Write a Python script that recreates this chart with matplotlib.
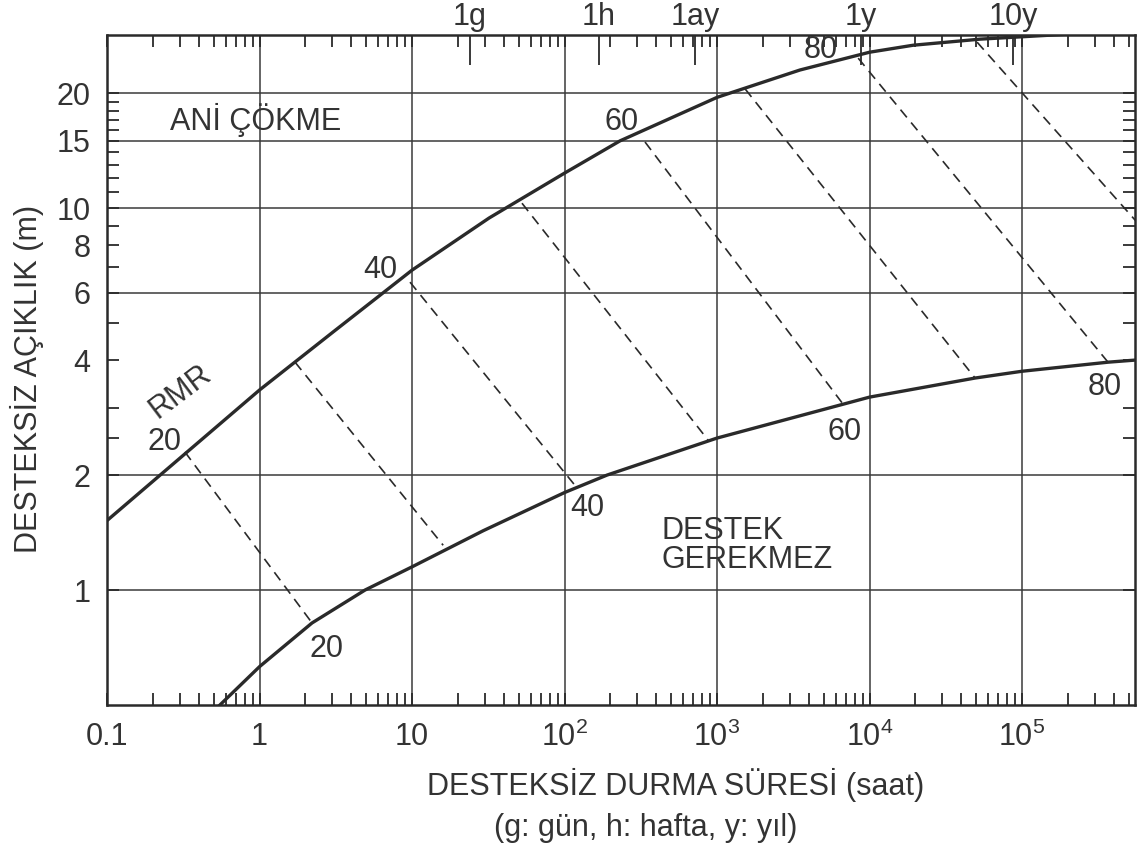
import matplotlib
matplotlib.use("Agg")
import matplotlib.pyplot as plt
from matplotlib.ticker import FixedLocator, FixedFormatter, NullFormatter

# ---------------- data ----------------
# upper boundary (immediate collapse), time in hours, span in m
upper_t = [0.1, 1, 3.08, 6.46, 10, 32, 100, 231, 1000, 3500, 10000, 19300, 53100, 100000, 186000]
upper_s = [1.52, 3.34, 4.76, 6.0, 6.88, 9.42, 12.35, 15.0, 19.5, 23.0, 25.6, 26.7, 27.7, 28.1, 28.5]

# lower boundary (no support required)
lower_t = [0.55, 1, 2.21, 4.92, 10, 29.3, 100, 190, 1000, 10000, 49200, 100000, 366000, 550000]
lower_s = [0.5, 0.63, 0.82, 1.0, 1.15, 1.43, 1.80, 2.0, 2.50, 3.20, 3.59, 3.74, 3.95, 4.0]

# RMR iso-lines (dashed): start at upper curve, end on lower curve
rmr_top_t = [0.324, 1.71, 9.7, 52.6, 337, 1530, 8420, 50700]
rmr_top_s = [2.30, 3.95, 6.4, 10.3, 14.9, 20.5, 24.7, 27.2]
rmr_bot_t = [2.21, 16.0, 117, 873, 6610, 49200, 366000, 3.6e6]
rmr_bot_s = [0.82, 1.31, 1.88, 2.47, 3.09, 3.59, 3.95, 4.0]

# RMR labels
up_lab = ["20", "40", "60", "80"]
up_lab_t = [0.240, 6.17, 238, 4810]
up_lab_s = [2.44, 6.88, 16.8, 25.9]
lo_lab = ["20", "40", "60", "80"]
lo_lab_t = [2.73, 141, 6900, 3.5e5]
lo_lab_s = [0.70, 1.64, 2.59, 3.40]

# axis ticks
x_major = [0.1, 1, 10, 100, 1000, 10000, 100000]
x_major_labels = ["0.1", "1", "10", r"$\mathregular{10^{2}}$", r"$\mathregular{10^{3}}$",
                  r"$\mathregular{10^{4}}$", r"$\mathregular{10^{5}}$"]
x_minor = [k * 10.0 ** n for n in range(-1, 6) for k in range(2, 10)]
top_t = [24, 168, 720, 8760, 87600]
top_labels = ["1g", "1h", "1ay", "1y", "10y"]
y_major = [1, 2, 4, 6, 8, 10, 15, 20]
y_major_labels = ["1", "2", "4", "6", "8", "10", "15", "20"]
y_minor = [2.5, 3, 5, 7, 9, 11, 12, 13, 14, 16, 17, 18, 19]
v_grid = [1, 10, 100, 1000, 10000, 100000]
h_grid = [1, 2, 6, 10, 15, 20]

# ---------------- style ----------------
plt.rcParams["font.family"] = ["Liberation Sans", "DejaVu Sans"]
ink = "#2a2a2a"
txt = "#333333"
fs = 22

fig = plt.figure(figsize=(11.37, 8.57), dpi=100)
ax = fig.add_axes([107 / 1137, 1 - 705 / 857, (1135 - 107) / 1137, (705 - 35) / 857])
ax.set_xscale("log")
ax.set_yscale("log")
ax.set_xlim(0.1, 5.5e5)
ax.set_ylim(0.5, 28.4)

for v in v_grid:
    ax.axvline(v, color="#3a3a3a", lw=1.1, zorder=1)
for h in h_grid:
    ax.axhline(h, color="#3a3a3a", lw=1.1, zorder=1)

ax.plot(upper_t, upper_s, color=ink, lw=2.4, zorder=3, solid_joinstyle="round")
ax.plot(lower_t, lower_s, color=ink, lw=2.4, zorder=3, solid_joinstyle="round")

for t0, s0, t1, s1 in zip(rmr_top_t, rmr_top_s, rmr_bot_t, rmr_bot_s):
    ax.plot([t0, t1], [s0, s1], color=ink, lw=1.2, linestyle=(0, (6, 4)), zorder=2)

for lab, t, s in zip(up_lab, up_lab_t, up_lab_s):
    ax.text(t, s, lab, fontsize=fs, color=txt, ha="center", va="center", zorder=4)
for lab, t, s in zip(lo_lab, lo_lab_t, lo_lab_s):
    ax.text(t, s, lab, fontsize=fs, color=txt, ha="center", va="center", zorder=4)

ax.text(0.305, 3.30, "RMR", fontsize=fs, color=txt, ha="center", va="center", rotation=37)
ax.text(0.26, 17.0, "ANİ ÇÖKME", fontsize=fs, color=txt, ha="left", va="center")
ax.text(430, 1.31, "DESTEK\nGEREKMEZ", fontsize=fs, color=txt, ha="left", va="center",
        linespacing=0.95)

# ticks
ax.xaxis.set_major_locator(FixedLocator(x_major))
ax.xaxis.set_major_formatter(FixedFormatter(x_major_labels))
ax.xaxis.set_minor_locator(FixedLocator(x_minor))
ax.xaxis.set_minor_formatter(NullFormatter())
ax.yaxis.set_major_locator(FixedLocator(y_major))
ax.yaxis.set_major_formatter(FixedFormatter(y_major_labels))
ax.yaxis.set_minor_locator(FixedLocator(y_minor))
ax.yaxis.set_minor_formatter(NullFormatter())

ax.tick_params(which="both", direction="in", top=True, right=True, color=ink,
               width=1.3, length=8.6, labelsize=fs, labelcolor=txt)
ax.tick_params(axis="x", which="major", pad=12)
ax.tick_params(axis="y", which="major", pad=12)

for sp in ax.spines.values():
    sp.set_linewidth(1.8)
    sp.set_color(ink)

sec = ax.secondary_xaxis("top")
sec.xaxis.set_major_locator(FixedLocator(top_t))
sec.xaxis.set_major_formatter(FixedFormatter(top_labels))
sec.xaxis.set_minor_locator(FixedLocator([]))
sec.tick_params(direction="in", length=21.6, width=1.3, color=ink, labelsize=fs,
                labelcolor=txt, pad=2)
sec.spines["top"].set_visible(False)

fig.text(676 / 1137, 1 - 785 / 857, "DESTEKSİZ DURMA SÜRESİ (saat)", fontsize=fs,
         color=txt, ha="center", va="center")
fig.text(646 / 1137, 1 - 828 / 857, "(g: gün, h: hafta, y: yıl)", fontsize=fs,
         color=txt, ha="center", va="center")
fig.text(27 / 1137, 1 - 379 / 857, "DESTEKSİZ AÇIKLIK (m)", fontsize=fs, color=txt,
         ha="center", va="center", rotation=90)

fig.savefig("out.png", dpi=100, facecolor="white")
